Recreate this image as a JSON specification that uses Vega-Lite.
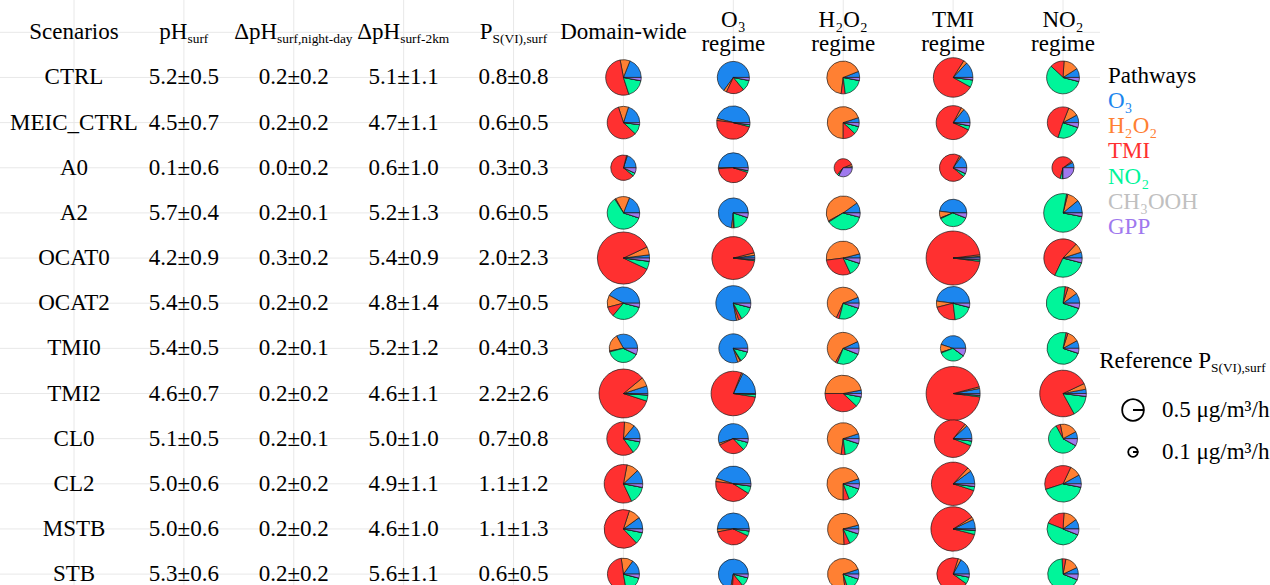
{
  "$schema": "https://vega.github.io/schema/vega-lite/v6.json",
  "width": 1100,
  "height": 585,
  "padding": {"left": 0, "top": 0, "right": 170, "bottom": 0},
  "autosize": {"type": "none"},
  "background": "white",
  "config": {
    "view": {"stroke": null},
    "text": {"font": "Liberation Serif", "fontSize": 23, "fill": "#000000"}
  },
  "datasets": {
    "cols": [
      {"col": "Scenarios"}, {"col": "pH"}, {"col": "dpH_nd"}, {"col": "dpH_2km"}, {"col": "P"},
      {"col": "Domain-wide"}, {"col": "O3"}, {"col": "H2O2"}, {"col": "TMI"}, {"col": "NO2"}
    ],
    "rows": [
      {"row": "hdr"}, {"row": "CTRL"}, {"row": "MEIC_CTRL"}, {"row": "A0"}, {"row": "A2"}, {"row": "OCAT0"},
      {"row": "OCAT2"}, {"row": "TMI0"}, {"row": "TMI2"}, {"row": "CL0"}, {"row": "CL2"}, {"row": "MSTB"}, {"row": "STB"}
    ],
    "tbl": [
      {"s": "CTRL", "pH": "5.2±0.5", "dpH_nd": "0.2±0.2", "dpH_2km": "5.1±1.1", "P": "0.8±0.8"},
      {"s": "MEIC_CTRL", "pH": "4.5±0.7", "dpH_nd": "0.2±0.2", "dpH_2km": "4.7±1.1", "P": "0.6±0.5"},
      {"s": "A0", "pH": "0.1±0.6", "dpH_nd": "0.0±0.2", "dpH_2km": "0.6±1.0", "P": "0.3±0.3"},
      {"s": "A2", "pH": "5.7±0.4", "dpH_nd": "0.2±0.1", "dpH_2km": "5.2±1.3", "P": "0.6±0.5"},
      {"s": "OCAT0", "pH": "4.2±0.9", "dpH_nd": "0.3±0.2", "dpH_2km": "5.4±0.9", "P": "2.0±2.3"},
      {"s": "OCAT2", "pH": "5.4±0.5", "dpH_nd": "0.2±0.2", "dpH_2km": "4.8±1.4", "P": "0.7±0.5"},
      {"s": "TMI0", "pH": "5.4±0.5", "dpH_nd": "0.2±0.1", "dpH_2km": "5.2±1.2", "P": "0.4±0.3"},
      {"s": "TMI2", "pH": "4.6±0.7", "dpH_nd": "0.2±0.2", "dpH_2km": "4.6±1.1", "P": "2.2±2.6"},
      {"s": "CL0", "pH": "5.1±0.5", "dpH_nd": "0.2±0.1", "dpH_2km": "5.0±1.0", "P": "0.7±0.8"},
      {"s": "CL2", "pH": "5.0±0.6", "dpH_nd": "0.2±0.2", "dpH_2km": "4.9±1.1", "P": "1.1±1.2"},
      {"s": "MSTB", "pH": "5.0±0.6", "dpH_nd": "0.2±0.2", "dpH_2km": "4.6±1.0", "P": "1.1±1.3"},
      {"s": "STB", "pH": "5.3±0.6", "dpH_nd": "0.2±0.2", "dpH_2km": "5.6±1.1", "P": "0.6±0.5"}
    ],
    "pies": [
      {"s": "CTRL", "g": "Domain-wide", "P": 1.35, "O3": 0.19, "H2O2": 0.09, "TMI": 0.52, "NO2": 0.17, "CH3OOH": 0, "GPP": 0.03},
      {"s": "CTRL", "g": "O3", "P": 1.1, "O3": 0.65, "H2O2": 0.03, "TMI": 0.18, "NO2": 0.11, "CH3OOH": 0, "GPP": 0.03},
      {"s": "CTRL", "g": "H2O2", "P": 1.15, "O3": 0.06, "H2O2": 0.67, "TMI": 0.04, "NO2": 0.20, "CH3OOH": 0, "GPP": 0.03},
      {"s": "CTRL", "g": "TMI", "P": 1.67, "O3": 0.13, "H2O2": 0.03, "TMI": 0.76, "NO2": 0.06, "CH3OOH": 0, "GPP": 0.02},
      {"s": "CTRL", "g": "NO2", "P": 1.15, "O3": 0.09, "H2O2": 0.15, "TMI": 0.14, "NO2": 0.58, "CH3OOH": 0, "GPP": 0.04},

      {"s": "MEIC_CTRL", "g": "Domain-wide", "P": 1.13, "O3": 0.20, "H2O2": 0.10, "TMI": 0.58, "NO2": 0.10, "CH3OOH": 0, "GPP": 0.02},
      {"s": "MEIC_CTRL", "g": "O3", "P": 1.19, "O3": 0.46, "H2O2": 0.02, "TMI": 0.48, "NO2": 0.02, "CH3OOH": 0, "GPP": 0.02},
      {"s": "MEIC_CTRL", "g": "H2O2", "P": 1.09, "O3": 0.05, "H2O2": 0.70, "TMI": 0.13, "NO2": 0.08, "CH3OOH": 0, "GPP": 0.04},
      {"s": "MEIC_CTRL", "g": "TMI", "P": 1.23, "O3": 0.14, "H2O2": 0.03, "TMI": 0.76, "NO2": 0.04, "CH3OOH": 0, "GPP": 0.03},
      {"s": "MEIC_CTRL", "g": "NO2", "P": 1.05, "O3": 0.08, "H2O2": 0.11, "TMI": 0.51, "NO2": 0.25, "CH3OOH": 0, "GPP": 0.05},

      {"s": "A0", "g": "Domain-wide", "P": 0.69, "O3": 0.20, "H2O2": 0.01, "TMI": 0.68, "NO2": 0.04, "CH3OOH": 0, "GPP": 0.07},
      {"s": "A0", "g": "O3", "P": 0.96, "O3": 0.50, "H2O2": 0.01, "TMI": 0.44, "NO2": 0.02, "CH3OOH": 0, "GPP": 0.03},
      {"s": "A0", "g": "H2O2", "P": 0.35, "O3": 0.02, "H2O2": 0.04, "TMI": 0.58, "NO2": 0.03, "CH3OOH": 0, "GPP": 0.33},
      {"s": "A0", "g": "TMI", "P": 0.80, "O3": 0.15, "H2O2": 0.02, "TMI": 0.72, "NO2": 0.04, "CH3OOH": 0, "GPP": 0.07},
      {"s": "A0", "g": "NO2", "P": 0.52, "O3": 0.08, "H2O2": 0.02, "TMI": 0.61, "NO2": 0.04, "CH3OOH": 0, "GPP": 0.25},

      {"s": "A2", "g": "Domain-wide", "P": 1.13, "O3": 0.19, "H2O2": 0.14, "TMI": 0.01, "NO2": 0.61, "CH3OOH": 0, "GPP": 0.05},
      {"s": "A2", "g": "O3", "P": 0.96, "O3": 0.73, "H2O2": 0.02, "TMI": 0.01, "NO2": 0.19, "CH3OOH": 0, "GPP": 0.05},
      {"s": "A2", "g": "H2O2", "P": 1.23, "O3": 0.10, "H2O2": 0.48, "TMI": 0.01, "NO2": 0.37, "CH3OOH": 0, "GPP": 0.04},
      {"s": "A2", "g": "TMI", "P": 0.80, "O3": 0.48, "H2O2": 0.08, "TMI": 0.01, "NO2": 0.37, "CH3OOH": 0, "GPP": 0.06},
      {"s": "A2", "g": "NO2", "P": 1.59, "O3": 0.11, "H2O2": 0.10, "TMI": 0.01, "NO2": 0.75, "CH3OOH": 0, "GPP": 0.03},

      {"s": "OCAT0", "g": "Domain-wide", "P": 2.9, "O3": 0.02, "H2O2": 0.05, "TMI": 0.86, "NO2": 0.05, "CH3OOH": 0, "GPP": 0.02},
      {"s": "OCAT0", "g": "O3", "P": 1.97, "O3": 0.02, "H2O2": 0.02, "TMI": 0.94, "NO2": 0.01, "CH3OOH": 0, "GPP": 0.01},
      {"s": "OCAT0", "g": "H2O2", "P": 1.23, "O3": 0.04, "H2O2": 0.48, "TMI": 0.30, "NO2": 0.13, "CH3OOH": 0, "GPP": 0.05},
      {"s": "OCAT0", "g": "TMI", "P": 3.11, "O3": 0.01, "H2O2": 0.01, "TMI": 0.96, "NO2": 0.01, "CH3OOH": 0, "GPP": 0.01},
      {"s": "OCAT0", "g": "NO2", "P": 1.57, "O3": 0.05, "H2O2": 0.08, "TMI": 0.55, "NO2": 0.28, "CH3OOH": 0, "GPP": 0.04},

      {"s": "OCAT2", "g": "Domain-wide", "P": 1.13, "O3": 0.42, "H2O2": 0.12, "TMI": 0.10, "NO2": 0.32, "CH3OOH": 0, "GPP": 0.04},
      {"s": "OCAT2", "g": "O3", "P": 1.31, "O3": 0.78, "H2O2": 0.02, "TMI": 0.03, "NO2": 0.13, "CH3OOH": 0, "GPP": 0.04},
      {"s": "OCAT2", "g": "H2O2", "P": 1.09, "O3": 0.06, "H2O2": 0.62, "TMI": 0.03, "NO2": 0.24, "CH3OOH": 0, "GPP": 0.05},
      {"s": "OCAT2", "g": "TMI", "P": 1.19, "O3": 0.48, "H2O2": 0.06, "TMI": 0.23, "NO2": 0.19, "CH3OOH": 0, "GPP": 0.04},
      {"s": "OCAT2", "g": "NO2", "P": 1.19, "O3": 0.10, "H2O2": 0.10, "TMI": 0.03, "NO2": 0.72, "CH3OOH": 0, "GPP": 0.05},

      {"s": "TMI0", "g": "Domain-wide", "P": 0.86, "O3": 0.33, "H2O2": 0.20, "TMI": 0.01, "NO2": 0.39, "CH3OOH": 0, "GPP": 0.07},
      {"s": "TMI0", "g": "O3", "P": 0.90, "O3": 0.80, "H2O2": 0.03, "TMI": 0.01, "NO2": 0.12, "CH3OOH": 0, "GPP": 0.04},
      {"s": "TMI0", "g": "H2O2", "P": 1.09, "O3": 0.07, "H2O2": 0.60, "TMI": 0.02, "NO2": 0.25, "CH3OOH": 0, "GPP": 0.06},
      {"s": "TMI0", "g": "TMI", "P": 0.69, "O3": 0.45, "H2O2": 0.10, "TMI": 0.01, "NO2": 0.34, "CH3OOH": 0, "GPP": 0.10},
      {"s": "TMI0", "g": "NO2", "P": 1.09, "O3": 0.08, "H2O2": 0.12, "TMI": 0.02, "NO2": 0.73, "CH3OOH": 0, "GPP": 0.05},

      {"s": "TMI2", "g": "Domain-wide", "P": 2.56, "O3": 0.05, "H2O2": 0.06, "TMI": 0.84, "NO2": 0.04, "CH3OOH": 0, "GPP": 0.01},
      {"s": "TMI2", "g": "O3", "P": 2.12, "O3": 0.18, "H2O2": 0.01, "TMI": 0.785, "NO2": 0.02, "CH3OOH": 0, "GPP": 0.005},
      {"s": "TMI2", "g": "H2O2", "P": 1.43, "O3": 0.03, "H2O2": 0.47, "TMI": 0.38, "NO2": 0.09, "CH3OOH": 0, "GPP": 0.03},
      {"s": "TMI2", "g": "TMI", "P": 3.11, "O3": 0.03, "H2O2": 0.01, "TMI": 0.94, "NO2": 0.01, "CH3OOH": 0, "GPP": 0.01},
      {"s": "TMI2", "g": "NO2", "P": 2.32, "O3": 0.03, "H2O2": 0.04, "TMI": 0.76, "NO2": 0.15, "CH3OOH": 0, "GPP": 0.02},

      {"s": "CL0", "g": "Domain-wide", "P": 1.19, "O3": 0.14, "H2O2": 0.10, "TMI": 0.61, "NO2": 0.12, "CH3OOH": 0, "GPP": 0.03},
      {"s": "CL0", "g": "O3", "P": 0.96, "O3": 0.55, "H2O2": 0.02, "TMI": 0.30, "NO2": 0.09, "CH3OOH": 0, "GPP": 0.04},
      {"s": "CL0", "g": "H2O2", "P": 1.09, "O3": 0.05, "H2O2": 0.68, "TMI": 0.04, "NO2": 0.18, "CH3OOH": 0, "GPP": 0.05},
      {"s": "CL0", "g": "TMI", "P": 1.51, "O3": 0.12, "H2O2": 0.02, "TMI": 0.80, "NO2": 0.04, "CH3OOH": 0, "GPP": 0.02},
      {"s": "CL0", "g": "NO2", "P": 0.90, "O3": 0.08, "H2O2": 0.20, "TMI": 0.05, "NO2": 0.59, "CH3OOH": 0, "GPP": 0.08},

      {"s": "CL2", "g": "Domain-wide", "P": 1.59, "O3": 0.12, "H2O2": 0.10, "TMI": 0.60, "NO2": 0.15, "CH3OOH": 0, "GPP": 0.03},
      {"s": "CL2", "g": "O3", "P": 1.34, "O3": 0.45, "H2O2": 0.03, "TMI": 0.43, "NO2": 0.07, "CH3OOH": 0, "GPP": 0.02},
      {"s": "CL2", "g": "H2O2", "P": 1.13, "O3": 0.05, "H2O2": 0.70, "TMI": 0.06, "NO2": 0.14, "CH3OOH": 0, "GPP": 0.05},
      {"s": "CL2", "g": "TMI", "P": 2.01, "O3": 0.10, "H2O2": 0.03, "TMI": 0.82, "NO2": 0.03, "CH3OOH": 0, "GPP": 0.02},
      {"s": "CL2", "g": "NO2", "P": 1.43, "O3": 0.08, "H2O2": 0.10, "TMI": 0.37, "NO2": 0.42, "CH3OOH": 0, "GPP": 0.03},

      {"s": "MSTB", "g": "Domain-wide", "P": 1.59, "O3": 0.10, "H2O2": 0.10, "TMI": 0.67, "NO2": 0.10, "CH3OOH": 0, "GPP": 0.03},
      {"s": "MSTB", "g": "O3", "P": 1.09, "O3": 0.50, "H2O2": 0.03, "TMI": 0.40, "NO2": 0.05, "CH3OOH": 0, "GPP": 0.02},
      {"s": "MSTB", "g": "H2O2", "P": 1.05, "O3": 0.04, "H2O2": 0.72, "TMI": 0.06, "NO2": 0.13, "CH3OOH": 0, "GPP": 0.05},
      {"s": "MSTB", "g": "TMI", "P": 2.11, "O3": 0.07, "H2O2": 0.02, "TMI": 0.87, "NO2": 0.03, "CH3OOH": 0, "GPP": 0.01},
      {"s": "MSTB", "g": "NO2", "P": 1.09, "O3": 0.10, "H2O2": 0.14, "TMI": 0.20, "NO2": 0.50, "CH3OOH": 0, "GPP": 0.06},

      {"s": "STB", "g": "Domain-wide", "P": 1.09, "O3": 0.15, "H2O2": 0.12, "TMI": 0.50, "NO2": 0.18, "CH3OOH": 0, "GPP": 0.04},
      {"s": "STB", "g": "O3", "P": 0.96, "O3": 0.72, "H2O2": 0.02, "TMI": 0.12, "NO2": 0.10, "CH3OOH": 0, "GPP": 0.04},
      {"s": "STB", "g": "H2O2", "P": 1.05, "O3": 0.05, "H2O2": 0.72, "TMI": 0.03, "NO2": 0.15, "CH3OOH": 0, "GPP": 0.05},
      {"s": "STB", "g": "TMI", "P": 1.13, "O3": 0.17, "H2O2": 0.03, "TMI": 0.70, "NO2": 0.07, "CH3OOH": 0, "GPP": 0.03},
      {"s": "STB", "g": "NO2", "P": 1.0, "O3": 0.07, "H2O2": 0.15, "TMI": 0.04, "NO2": 0.68, "CH3OOH": 0, "GPP": 0.06}
    ],
    "paths": [
      {"pathway": "O3", "label": "O₃"},
      {"pathway": "H2O2", "label": "H₂O₂"},
      {"pathway": "TMI", "label": "TMI"},
      {"pathway": "NO2", "label": "NO₂"},
      {"pathway": "CH3OOH", "label": "CH₃OOH"},
      {"pathway": "GPP", "label": "GPP"}
    ],
    "refs": [
      {"ref": "0.5", "P": 0.5, "label": "0.5 μg/m³/h"},
      {"ref": "0.1", "P": 0.1, "label": "0.1 μg/m³/h"}
    ]
  },
  "layer": [
    {
      "layer": [
        {
          "data": {"name": "cols"},
          "mark": {"type": "rule", "color": "#e8e8e8", "strokeWidth": 1},
          "encoding": {
            "x": {"field": "col", "type": "nominal", "axis": null,
                  "scale": {"type": "point", "domain": ["Scenarios", "pH", "dpH_nd", "dpH_2km", "P", "Domain-wide", "O3", "H2O2", "TMI", "NO2"], "range": [74, 1063], "padding": 0}}
          }
        },
        {
          "data": {"name": "rows"},
          "mark": {"type": "rule", "color": "#e8e8e8", "strokeWidth": 1},
          "encoding": {
            "y": {"field": "row", "type": "nominal", "axis": null,
                  "scale": {"type": "point", "domain": ["hdr", "CTRL", "MEIC_CTRL", "A0", "A2", "OCAT0", "OCAT2", "TMI0", "TMI2", "CL0", "CL2", "MSTB", "STB"], "range": [32.3, 574.1], "padding": 0}}
          }
        },
        {
          "data": {"name": "tbl"},
          "mark": {"type": "text", "align": "center", "baseline": "middle"},
          "encoding": {
            "x": {"datum": "Scenarios", "axis": null,
                  "scale": {"type": "point", "domain": ["Scenarios", "pH", "dpH_nd", "dpH_2km", "P", "Domain-wide", "O3", "H2O2", "TMI", "NO2"], "range": [74, 1063], "padding": 0}},
            "y": {"field": "s", "type": "nominal", "axis": null,
                  "scale": {"type": "point", "domain": ["hdr", "CTRL", "MEIC_CTRL", "A0", "A2", "OCAT0", "OCAT2", "TMI0", "TMI2", "CL0", "CL2", "MSTB", "STB"], "range": [32.3, 574.1], "padding": 0}},
            "text": {"field": "s"}
          }
        },
        {
          "data": {"name": "tbl"},
          "transform": [{"fold": ["pH", "dpH_nd", "dpH_2km", "P"], "as": ["col", "val"]}],
          "mark": {"type": "text", "align": "center", "baseline": "middle"},
          "encoding": {
            "x": {"field": "col", "type": "nominal", "axis": null,
                  "scale": {"type": "point", "domain": ["Scenarios", "pH", "dpH_nd", "dpH_2km", "P", "Domain-wide", "O3", "H2O2", "TMI", "NO2"], "range": [74, 1063], "padding": 0}},
            "y": {"field": "s", "type": "nominal", "axis": null,
                  "scale": {"type": "point", "domain": ["hdr", "CTRL", "MEIC_CTRL", "A0", "A2", "OCAT0", "OCAT2", "TMI0", "TMI2", "CL0", "CL2", "MSTB", "STB"], "range": [32.3, 574.1], "padding": 0}},
            "text": {"field": "val"}
          }
        },
        {
          "data": {"values": [{"col": "Scenarios", "t": "Scenarios"}, {"col": "Domain-wide", "t": "Domain-wide"}]},
          "mark": {"type": "text", "align": "center", "baseline": "middle"},
          "encoding": {
            "x": {"field": "col", "type": "nominal", "axis": null,
                  "scale": {"type": "point", "domain": ["Scenarios", "pH", "dpH_nd", "dpH_2km", "P", "Domain-wide", "O3", "H2O2", "TMI", "NO2"], "range": [74, 1063], "padding": 0}},
            "y": {"datum": "hdr", "axis": null,
                  "scale": {"type": "point", "domain": ["hdr", "CTRL", "MEIC_CTRL", "A0", "A2", "OCAT0", "OCAT2", "TMI0", "TMI2", "CL0", "CL2", "MSTB", "STB"], "range": [32.3, 574.1], "padding": 0}},
            "text": {"field": "t"}
          }
        },
        {
          "data": {"values": [
            {"col": "O3", "t": ["O₃", "regime"]},
            {"col": "H2O2", "t": ["H₂O₂", "regime"]},
            {"col": "TMI", "t": ["TMI", "regime"]},
            {"col": "NO2", "t": ["NO₂", "regime"]}
          ]},
          "mark": {"type": "text", "align": "center", "baseline": "middle", "lineHeight": 23.5, "dy": -12},
          "encoding": {
            "x": {"field": "col", "type": "nominal", "axis": null,
                  "scale": {"type": "point", "domain": ["Scenarios", "pH", "dpH_nd", "dpH_2km", "P", "Domain-wide", "O3", "H2O2", "TMI", "NO2"], "range": [74, 1063], "padding": 0}},
            "y": {"datum": "hdr", "axis": null,
                  "scale": {"type": "point", "domain": ["hdr", "CTRL", "MEIC_CTRL", "A0", "A2", "OCAT0", "OCAT2", "TMI0", "TMI2", "CL0", "CL2", "MSTB", "STB"], "range": [32.3, 574.1], "padding": 0}},
            "text": {"field": "t"}
          }
        },
        {
          "data": {"values": [{"col": "pH", "b": "pH", "sub": "surf"}]},
          "encoding": {
            "x": {"field": "col", "type": "nominal", "axis": null,
                  "scale": {"type": "point", "domain": ["Scenarios", "pH", "dpH_nd", "dpH_2km", "P", "Domain-wide", "O3", "H2O2", "TMI", "NO2"], "range": [74, 1063], "padding": 0}},
            "y": {"datum": "hdr", "axis": null,
                  "scale": {"type": "point", "domain": ["hdr", "CTRL", "MEIC_CTRL", "A0", "A2", "OCAT0", "OCAT2", "TMI0", "TMI2", "CL0", "CL2", "MSTB", "STB"], "range": [32.3, 574.1], "padding": 0}}
          },
          "layer": [
            {"mark": {"type": "text", "align": "right", "baseline": "middle", "dx": 3.6}, "encoding": {"text": {"field": "b"}}},
            {"mark": {"type": "text", "align": "left", "baseline": "middle", "dx": 3.6, "dy": 6.5, "fontSize": 13.4}, "encoding": {"text": {"field": "sub"}}}
          ]
        },
        {
          "data": {"values": [{"col": "dpH_nd", "b": "ΔpH", "sub": "surf,night-day"}]},
          "encoding": {
            "x": {"field": "col", "type": "nominal", "axis": null,
                  "scale": {"type": "point", "domain": ["Scenarios", "pH", "dpH_nd", "dpH_2km", "P", "Domain-wide", "O3", "H2O2", "TMI", "NO2"], "range": [74, 1063], "padding": 0}},
            "y": {"datum": "hdr", "axis": null,
                  "scale": {"type": "point", "domain": ["hdr", "CTRL", "MEIC_CTRL", "A0", "A2", "OCAT0", "OCAT2", "TMI0", "TMI2", "CL0", "CL2", "MSTB", "STB"], "range": [32.3, 574.1], "padding": 0}}
          },
          "layer": [
            {"mark": {"type": "text", "align": "right", "baseline": "middle", "dx": -16.7}, "encoding": {"text": {"field": "b"}}},
            {"mark": {"type": "text", "align": "left", "baseline": "middle", "dx": -16.7, "dy": 6.5, "fontSize": 13.4}, "encoding": {"text": {"field": "sub"}}}
          ]
        },
        {
          "data": {"values": [{"col": "dpH_2km", "b": "ΔpH", "sub": "surf-2km"}]},
          "encoding": {
            "x": {"field": "col", "type": "nominal", "axis": null,
                  "scale": {"type": "point", "domain": ["Scenarios", "pH", "dpH_nd", "dpH_2km", "P", "Domain-wide", "O3", "H2O2", "TMI", "NO2"], "range": [74, 1063], "padding": 0}},
            "y": {"datum": "hdr", "axis": null,
                  "scale": {"type": "point", "domain": ["hdr", "CTRL", "MEIC_CTRL", "A0", "A2", "OCAT0", "OCAT2", "TMI0", "TMI2", "CL0", "CL2", "MSTB", "STB"], "range": [32.3, 574.1], "padding": 0}}
          },
          "layer": [
            {"mark": {"type": "text", "align": "right", "baseline": "middle", "dx": -3.5}, "encoding": {"text": {"field": "b"}}},
            {"mark": {"type": "text", "align": "left", "baseline": "middle", "dx": -3.5, "dy": 6.5, "fontSize": 13.4}, "encoding": {"text": {"field": "sub"}}}
          ]
        },
        {
          "data": {"values": [{"col": "P", "b": "P", "sub": "S(VI),surf"}]},
          "encoding": {
            "x": {"field": "col", "type": "nominal", "axis": null,
                  "scale": {"type": "point", "domain": ["Scenarios", "pH", "dpH_nd", "dpH_2km", "P", "Domain-wide", "O3", "H2O2", "TMI", "NO2"], "range": [74, 1063], "padding": 0}},
            "y": {"datum": "hdr", "axis": null,
                  "scale": {"type": "point", "domain": ["hdr", "CTRL", "MEIC_CTRL", "A0", "A2", "OCAT0", "OCAT2", "TMI0", "TMI2", "CL0", "CL2", "MSTB", "STB"], "range": [32.3, 574.1], "padding": 0}}
          },
          "layer": [
            {"mark": {"type": "text", "align": "right", "baseline": "middle", "dx": -21}, "encoding": {"text": {"field": "b"}}},
            {"mark": {"type": "text", "align": "left", "baseline": "middle", "dx": -21, "dy": 6.5, "fontSize": 13.4}, "encoding": {"text": {"field": "sub"}}}
          ]
        },
        {
          "data": {"name": "pies"},
          "transform": [
            {"fold": ["O3", "H2O2", "TMI", "NO2", "CH3OOH", "GPP"], "as": ["pathway", "frac"]},
            {"stack": "frac", "groupby": ["s", "g"], "offset": "normalize", "as": ["t0", "t1"]}
          ],
          "mark": {"type": "arc", "stroke": "#1a1a1a", "strokeWidth": 0.7},
          "encoding": {
            "x": {"field": "g", "type": "nominal", "axis": null,
                  "scale": {"type": "point", "domain": ["Scenarios", "pH", "dpH_nd", "dpH_2km", "P", "Domain-wide", "O3", "H2O2", "TMI", "NO2"], "range": [74, 1063], "padding": 0}},
            "y": {"field": "s", "type": "nominal", "axis": null,
                  "scale": {"type": "point", "domain": ["hdr", "CTRL", "MEIC_CTRL", "A0", "A2", "OCAT0", "OCAT2", "TMI0", "TMI2", "CL0", "CL2", "MSTB", "STB"], "range": [32.3, 574.1], "padding": 0}},
            "theta": {"field": "t0", "type": "quantitative", "stack": null, "scale": {"domain": [0, 1], "range": [1.5708, -4.712]}},
            "theta2": {"field": "t1"},
            "radius": {"field": "P", "type": "quantitative", "stack": null, "scale": {"type": "sqrt", "domain": [0, 1], "range": [0, 15.3]}},
            "color": {"field": "pathway", "type": "nominal", "legend": null,
                      "scale": {"domain": ["O3", "H2O2", "TMI", "NO2", "CH3OOH", "GPP"], "range": ["#1C86EE", "#FF8033", "#FF3030", "#00F59A", "#C0C0C0", "#9F79EE"]}}
          }
        }
      ]
    },
    {
      "layer": [
        {
          "data": {"values": [{"k": "title", "t": "Pathways"}]},
          "mark": {"type": "text", "align": "left", "baseline": "middle"},
          "encoding": {
            "x": {"datum": "L", "axis": null, "scale": {"type": "point", "domain": ["L"], "range": [1108, 1108]}},
            "y": {"field": "k", "type": "nominal", "axis": null,
                  "scale": {"type": "point", "domain": ["title", "O3", "H2O2", "TMI", "NO2", "CH3OOH", "GPP"], "range": [75.5, 227], "padding": 0}},
            "text": {"field": "t"}
          }
        },
        {
          "data": {"name": "paths"},
          "mark": {"type": "text", "align": "left", "baseline": "middle"},
          "encoding": {
            "x": {"datum": "L", "axis": null, "scale": {"type": "point", "domain": ["L"], "range": [1108, 1108]}},
            "y": {"field": "pathway", "type": "nominal", "axis": null,
                  "scale": {"type": "point", "domain": ["title", "O3", "H2O2", "TMI", "NO2", "CH3OOH", "GPP"], "range": [75.5, 227], "padding": 0}},
            "text": {"field": "label"},
            "color": {"field": "pathway", "type": "nominal", "legend": null,
                      "scale": {"domain": ["O3", "H2O2", "TMI", "NO2", "CH3OOH", "GPP"], "range": ["#1C86EE", "#FF8033", "#FF3030", "#00F59A", "#C0C0C0", "#9F79EE"]}}
          }
        }
      ]
    },
    {
      "data": {"values": [{"b": "Reference P", "sub": "S(VI),surf"}]},
      "encoding": {
        "x": {"datum": "A", "axis": null, "scale": {"type": "point", "domain": ["A"], "range": [1211, 1211]}},
        "y": {"datum": "T", "axis": null, "scale": {"type": "point", "domain": ["T"], "range": [361, 361]}}
      },
      "layer": [
        {"mark": {"type": "text", "align": "right", "baseline": "middle"}, "encoding": {"text": {"field": "b"}}},
        {"mark": {"type": "text", "align": "left", "baseline": "middle", "dy": 6.5, "fontSize": 13.4}, "encoding": {"text": {"field": "sub"}}}
      ]
    },
    {
      "data": {"name": "refs"},
      "encoding": {
        "y": {"field": "ref", "type": "nominal", "axis": null,
              "scale": {"type": "point", "domain": ["0.5", "0.1"], "range": [410, 452], "padding": 0}}
      },
      "layer": [
        {
          "transform": [{"stack": "P", "groupby": ["ref"], "offset": "normalize", "as": ["t0", "t1"]}],
          "mark": {"type": "arc", "fill": "white", "stroke": "#000000", "strokeWidth": 1.8},
          "encoding": {
            "x": {"datum": "sym", "axis": null, "scale": {"type": "point", "domain": ["sym", "lbl"], "range": [1133, 1162], "padding": 0}},
            "theta": {"field": "t0", "type": "quantitative", "stack": null, "scale": {"domain": [0, 1], "range": [1.5708, -4.712]}},
            "theta2": {"field": "t1"},
            "radius": {"field": "P", "type": "quantitative", "stack": null, "scale": {"type": "sqrt", "domain": [0, 1], "range": [0, 15.3]}}
          }
        },
        {
          "mark": {"type": "text", "align": "left", "baseline": "middle"},
          "encoding": {
            "x": {"datum": "lbl", "axis": null, "scale": {"type": "point", "domain": ["sym", "lbl"], "range": [1133, 1162], "padding": 0}},
            "text": {"field": "label"}
          }
        }
      ]
    }
  ],
  "resolve": {"scale": {"x": "independent", "y": "independent"}}
}
